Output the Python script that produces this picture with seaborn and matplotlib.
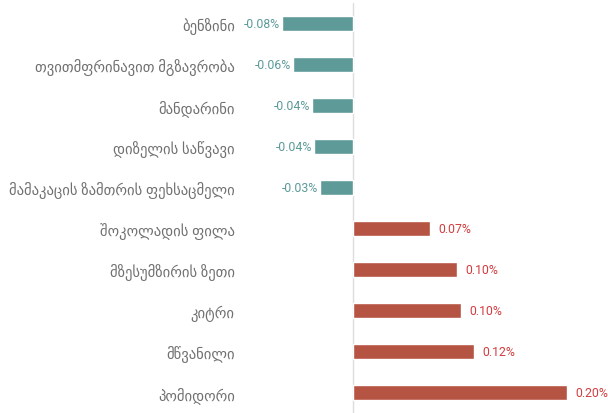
import matplotlib

matplotlib.use("Agg")

import matplotlib.pyplot as plt
import pandas as pd
import seaborn as sns

# data
products = [
    "ბენზინი",
    "თვითმფრინავით მგზავრობა",
    "მანდარინი",
    "დიზელის საწვავი",
    "მამაკაცის ზამთრის ფეხსაცმელი",
    "შოკოლადის ფილა",
    "მზესუმზირის ზეთი",
    "კიტრი",
    "მწვანილი",
    "პომიდორი",
]
changes = [-0.066, -0.056, -0.038, -0.036, -0.031, 0.072, 0.097, 0.101, 0.113, 0.200]
value_labels = ["-0.08%", "-0.06%", "-0.04%", "-0.04%", "-0.03%",
                "0.07%", "0.10%", "0.10%", "0.12%", "0.20%"]

NEG_BAR = "#5e9a98"
POS_BAR = "#b65444"
NEG_TEXT = "#5b9a98"
POS_TEXT = "#d23c3f"

sns.set_theme(style="white")
plt.rcParams["font.family"] = ["Roboto", "DejaVu Sans"]

df = pd.DataFrame({"product": products, "change": changes, "label": value_labels})
df["sign"] = ["neg" if v < 0 else "pos" for v in df["change"]]

fig = plt.figure(figsize=(6.08, 4.14), dpi=100)
ax = fig.add_axes([243 / 608, 0.0, (600 - 243) / 608, 410 / 414])

sns.barplot(
    data=df, x="change", y="product", hue="sign",
    palette={"neg": NEG_BAR, "pos": POS_BAR}, saturation=1,
    width=0.37, legend=False, ax=ax, orient="h",
)

ax.set_xlim(-(353 - 243) / 1070, (600 - 353) / 1070)
ax.axvline(0, color="#dddddd", linewidth=1, zorder=0)

for i, row in df.iterrows():
    if row["change"] < 0:
        ax.annotate(row["label"], (row["change"], i), xytext=(-1.5, 0), textcoords="offset points",
                    ha="right", va="center", fontsize=8.8, color=NEG_TEXT, annotation_clip=False)
    else:
        ax.annotate(row["label"], (row["change"], i), xytext=(6, 0), textcoords="offset points",
                    ha="left", va="center", fontsize=8.8, color=POS_TEXT, annotation_clip=False)

ax.set_xlabel("")
ax.set_ylabel("")
ax.set_xticks([])
ax.tick_params(axis="y", length=0, pad=6, labelsize=10.5, labelcolor="#707070")
for lbl in ax.get_yticklabels():
    lbl.set_family(["Noto Sans", "DejaVu Sans"])
sns.despine(ax=ax, left=True, bottom=True)

fig.savefig("out.png", dpi=100)
plt.close(fig)
